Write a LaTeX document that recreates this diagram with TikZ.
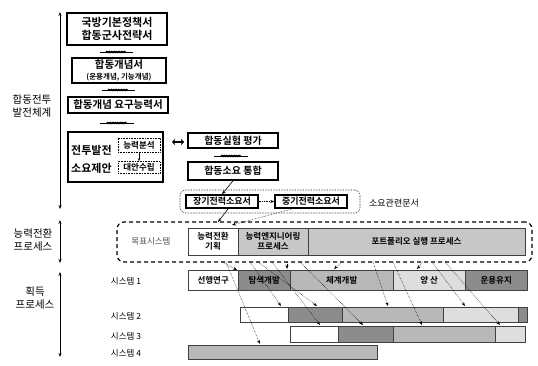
\documentclass[tikz,border=0pt]{standalone}
\usepackage{fontspec}
\setmainfont{Noto Sans CJK KR}[BoldFont={Noto Sans CJK KR Bold}]
\usetikzlibrary{arrows.meta,decorations.pathmorphing}
\definecolor{dk}{gray}{0.55}
\definecolor{md}{gray}{0.72}
\definecolor{lt}{gray}{0.87}
\definecolor{cmd}{gray}{0.78}
\begin{document}
\begin{tikzpicture}[x=1pt,y=-1pt,
  docbox/.style={draw, line width=1.5pt, fill=white, inner sep=0pt, align=center},
  dotbox/.style={draw, densely dotted, line width=0.6pt, inner sep=0pt, align=center},
  bar/.style={draw=black!75, line width=0.4pt, inner sep=0pt, anchor=west, align=center, font=\fontsize{8.5}{9.5}\selectfont\bfseries},
  axis/.style={line width=1pt, {Stealth[length=4pt]}-{Stealth[length=4pt]}},
  lab/.style={align=center, font=\fontsize{10.5}{13}\selectfont},
  syslab/.style={font=\fontsize{8.5}{9}\selectfont},
  darr/.style={densely dotted, line width=0.5pt, -{Stealth[length=4pt]}},
  wave/.style={line width=1.4pt, decorate, decoration={snake, amplitude=0.5pt, segment length=2.5pt}}
]
\useasboundingbox (0,0) rectangle (538,366);

% axes
\coordinate (a1t) at (60,12); \coordinate (a1b) at (60,209);
\coordinate (a2t) at (60,220); \coordinate (a2b) at (60,263);
\coordinate (a3t) at (60,272); \coordinate (a3b) at (60,357);
\draw[axis] (a1t) -- (a1b);
\draw[axis] (a2t) -- (a2b);
\draw[axis] (a3t) -- (a3b);
\node[lab] (l1) at (32,106) {합동전투\\발전체계};
\node[lab] (l2) at (33,240) {능력전환\\프로세스};
\node[lab] (l3) at (35,298) {획득\\프로세스};

% document chain
\node[docbox, minimum width=100pt, minimum height=32pt, font=\fontsize{11}{13}\selectfont\bfseries] (b1) at (117,29) {국방기본정책서\\합동군사전략서};
\node[docbox, minimum width=94pt, minimum height=25pt, font=\fontsize{10.5}{11}\selectfont\bfseries] (b2) at (119,70.5) {합동개념서\\{\fontsize{7.5}{8}\selectfont(운용개념, 기능개념)}};
\node[docbox, minimum width=100pt, minimum height=16pt, font=\fontsize{10.5}{11}\selectfont\bfseries] (b3) at (118,105) {합동개념 요구능력서};
\node[docbox, minimum width=95pt, minimum height=50pt] (b4) at (115.5,157) {};
\node[font=\fontsize{11}{12}\selectfont\bfseries, anchor=west, inner sep=0pt] (t4a) at (71,150) {전투발전};
\node[font=\fontsize{11}{12}\selectfont\bfseries, anchor=west, inner sep=0pt] (t4b) at (71,168) {소요제안};
\node[dotbox, minimum width=42pt, minimum height=14pt, font=\fontsize{8.5}{9}\selectfont\bfseries] (n1) at (139,145) {능력분석};
\node[dotbox, minimum width=42pt, minimum height=12pt, font=\fontsize{8.5}{9}\selectfont\bfseries] (n2) at (139,167.5) {대안수립};
\draw[line width=0.6pt, -{Stealth[length=3pt]}] (n1) -- (n2);

\coordinate (dl) at (172,142); \coordinate (dr) at (184,142);
\draw[line width=2.2pt, {Stealth[length=3pt,width=6pt]}-{Stealth[length=3pt,width=6pt]}] (dl) -- (dr);

\node[docbox, minimum width=90pt, minimum height=15pt, font=\fontsize{10}{11}\selectfont\bfseries] (b5) at (233,140.5) {합동실험 평가};
\node[docbox, minimum width=90pt, minimum height=18pt, font=\fontsize{10}{11}\selectfont\bfseries] (b6) at (233,171) {합동소요 통합};

% waves
\draw[line width=0.5pt] (100,52) -- (133,52);
\draw[wave] (106,52) -- (126,52);
\draw[line width=0.5pt] (102,90) -- (135,90);
\draw[wave] (108,90) -- (128,90);
\draw[line width=0.5pt] (100,123) -- (134,123);
\draw[wave] (107,123) -- (127,123);
\draw[line width=0.5pt] (214,156) -- (248,156);
\draw[wave] (221,156) -- (241,156);

% requirement documents
\node[draw, densely dotted, line width=0.6pt, rounded corners=5pt, minimum width=180pt, minimum height=23pt] (grp) at (270,201.5) {};
\node[docbox, minimum width=72pt, minimum height=13pt, font=\fontsize{9}{10}\selectfont\bfseries] (b7) at (222,201.5) {장기전력소요서};
\node[docbox, minimum width=72pt, minimum height=13pt, font=\fontsize{9}{10}\selectfont\bfseries] (b8) at (311,201.5) {중기전력소요서};
\draw[densely dotted, line width=0.7pt, -{Stealth[length=4pt]}] (b7) -- (b8);
\node[font=\fontsize{9}{10}\selectfont] (rl) at (394,203) {소요관련문서};
\draw[line width=0.6pt, -{Stealth[length=4pt]}] (b6.south) -- (b7.north);

% capability transition
\node[draw, dashed, dash pattern=on 4pt off 3pt, line width=1.2pt, rounded corners=7pt, minimum width=415pt, minimum height=40pt] (cap) at (324.5,242) {};
\node[font=\fontsize{8.5}{9}\selectfont, text=black!70] (tgt) at (151,241) {목표시스템};
\node[draw=black!75, line width=0.5pt, fill=white, minimum width=50pt, minimum height=27pt, inner sep=0pt, align=center, font=\fontsize{8.5}{10.5}\selectfont\bfseries] (c1) at (213,241.5) {능력전환\\기획};
\node[draw=black!75, line width=0.5pt, fill=lt!90!black, minimum width=70pt, minimum height=27pt, inner sep=0pt, align=center, font=\fontsize{8.5}{10.5}\selectfont\bfseries] (c2) at (273,241.5) {능력엔지니어링\\프로세스};
\node[draw=black!75, line width=0.5pt, fill=cmd, minimum width=217pt, minimum height=27pt, inner sep=0pt, align=center, font=\fontsize{8.5}{10.5}\selectfont\bfseries] (c3) at (416.5,241.5) {포트폴리오 실행 프로세스};

\coordinate (k1) at (228,209); \coordinate (k2) at (218,222);
\draw[line width=0.6pt, -{Stealth[length=4pt]}] (k1) -- (k2);
\coordinate (k3) at (292,209); \coordinate (k4) at (232,225);
\draw[darr] (k3) -- (k4);

% acquisition rows
\node[syslab] (s1) at (126,281) {시스템 1};
\node[syslab] (s2) at (126,316) {시스템 2};
\node[syslab] (s3) at (126,336) {시스템 3};
\node[syslab] (s4) at (126,353) {시스템 4};

\node[bar, fill=white, minimum width=50pt, minimum height=20pt] (r1a) at (188,280) {선행연구};
\node[bar, fill=dk, minimum width=52pt, minimum height=20pt] (r1b) at (238,280) {탐색개발};
\node[bar, fill=md, minimum width=103pt, minimum height=20pt] (r1c) at (290,280) {체계개발};
\node[bar, fill=lt, minimum width=72pt, minimum height=20pt] (r1d) at (393,280) {양 산};
\node[bar, fill=dk, minimum width=62pt, minimum height=20pt] (r1e) at (465,280) {운용유지};

\node[bar, fill=white, minimum width=48pt, minimum height=15pt] (r2a) at (240,314.5) {};
\node[bar, fill=dk, minimum width=54pt, minimum height=15pt] (r2b) at (288,314.5) {};
\node[bar, fill=md, minimum width=101pt, minimum height=15pt] (r2c) at (342,314.5) {};
\node[bar, fill=lt, minimum width=75pt, minimum height=15pt] (r2d) at (443,314.5) {};
\node[bar, fill=dk, minimum width=9pt, minimum height=15pt] (r2e) at (518,314.5) {};

\node[bar, fill=white, minimum width=48pt, minimum height=16pt] (r3a) at (290,334) {};
\node[bar, fill=dk, minimum width=55pt, minimum height=16pt] (r3b) at (338,334) {};
\node[bar, fill=md, minimum width=102pt, minimum height=16pt] (r3c) at (393,334) {};
\node[bar, fill=lt, minimum width=30pt, minimum height=16pt] (r3d) at (495,334) {};

\node[bar, fill=md, minimum width=189pt, minimum height=14pt] (r4a) at (188,352) {};

% dotted arrows from capability transition to acquisition
\foreach \sx/\ex/\ey [count=\i] in {
  222/237/270, 226/260/344, 250/281/306, 258/317/306, 272/320/325,
  287/287/269, 300/363/325, 342/334/269, 373/388/306, 393/422/325,
  423/417/269, 432/465/306, 445/500/325} {
  \coordinate (p\i) at (\sx,262);
  \coordinate (q\i) at (\ex,\ey);
  \draw[darr] (p\i) -- (q\i);
}
\end{tikzpicture}
\end{document}
